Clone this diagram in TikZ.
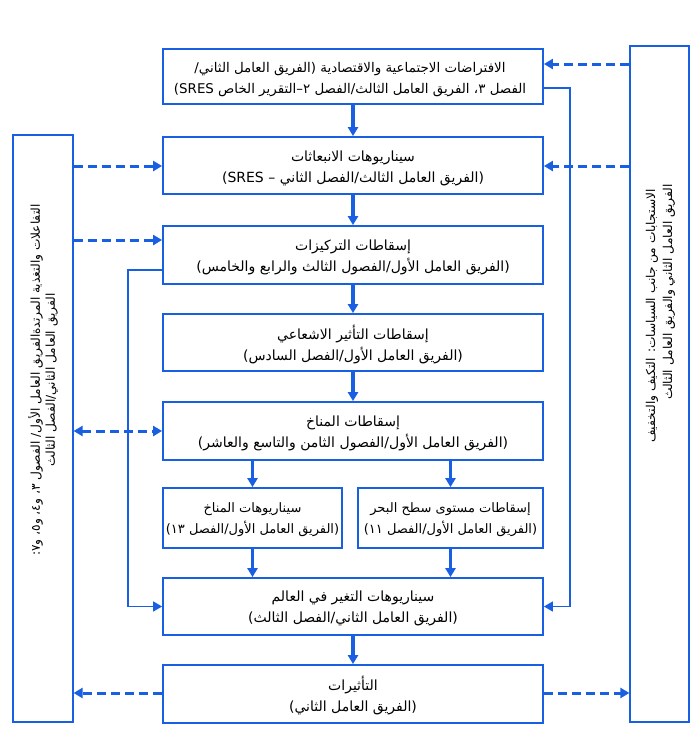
\documentclass[tikz,border=0pt]{standalone}
\usepackage{fontspec}
\usetikzlibrary{arrows.meta}
\TeXXeTstate=1
\newfontfamily\arfont[Script=Arabic]{DejaVu Sans}
\newcommand{\AR}[1]{\beginR #1\endR}
\definecolor{ipccblue}{RGB}{25,95,225}
\tikzset{
  box/.style={draw=ipccblue, line width=1.8pt, minimum width=380pt, inner sep=0pt},
  txt/.style={align=center, inner sep=0pt, font=\arfont\fontsize{14}{21}\selectfont},
  toptxt/.style={align=center, inner sep=0pt, font=\arfont\fontsize{13.4}{21}\selectfont},
  smalltxt/.style={align=center, inner sep=0pt, font=\arfont\fontsize{13}{21}\selectfont},
  sidebox/.style={draw=ipccblue, line width=1.2pt},
  sidetext/.style={rotate=90, align=center, inner sep=0pt, font=\arfont\fontsize{12.2}{15}\selectfont},
  arr/.style={draw=ipccblue, line width=3.2pt, -{Triangle[length=9pt,width=10pt]}},
  sarr/.style={draw=ipccblue, line width=1.6pt, -{Triangle[length=9pt,width=10pt]}},
  darr/.style={draw=ipccblue, line width=3pt, dash pattern=on 9pt off 5pt, -{Triangle[length=9pt,width=10pt]}},
  ddarr/.style={draw=ipccblue, line width=3pt, dash pattern=on 9pt off 5pt, {Triangle[length=9pt,width=10pt]}-{Triangle[length=9pt,width=10pt]}},
}
\begin{document}
\begin{tikzpicture}[x=1pt,y=-1pt]
\useasboundingbox (0,0) rectangle (700,737);
\fill[white] (0,0) rectangle (700,737);

\node[box, minimum height=55pt] (b1) at (353,76.5) {};
\node[box, minimum height=57pt] (b2) at (353,165.5) {};
\node[box, minimum height=58pt] (b3) at (353,255) {};
\node[box, minimum height=57pt] (b4) at (353,342.5) {};
\node[box, minimum height=58pt] (b5) at (353,431) {};
\node[box, minimum width=179pt, minimum height=60pt] (b6) at (252.5,518) {};
\node[box, minimum width=185pt, minimum height=60pt] (b7) at (450.5,518) {};
\node[box, minimum height=57pt] (b8) at (353,606.5) {};
\node[box, minimum height=58pt] (b9) at (353,694) {};

\node[toptxt] (t1) at ([xshift=-3pt,yshift=-3pt]b1.center) {\AR{الافتراضات الاجتماعية والاقتصادية (الفريق العامل الثاني/}\\\AR{الفصل ٣، الفريق العامل الثالث/الفصل ٢–التقرير الخاص \beginL SRES\endL)}};
\node[txt] (t2) at ([yshift=-3pt]b2.center) {\AR{سيناريوهات الانبعاثات}\\\AR{(الفريق العامل الثالث/الفصل الثاني – \beginL SRES\endL)}};
\node[txt] (t3) at ([yshift=-2pt]b3.center) {\AR{إسقاطات التركيزات}\\\AR{(الفريق العامل الأول/الفصول الثالث والرابع والخامس)}};
\node[txt] (t4) at ([yshift=-2pt]b4.center) {\AR{إسقاطات التأثير الاشعاعي}\\\AR{(الفريق العامل الأول/الفصل السادس)}};
\node[txt] (t5) at ([yshift=-2pt]b5.center) {\AR{إسقاطات المناخ}\\\AR{(الفريق العامل الأول/الفصول الثامن والتاسع والعاشر)}};
\node[smalltxt] (t6) at ([yshift=-2pt]b6.center) {\AR{سيناريوهات المناخ}\\\AR{(الفريق العامل الأول/الفصل ١٣)}};
\node[smalltxt] (t7) at ([yshift=-2pt]b7.center) {\AR{إسقاطات مستوى سطح البحر}\\\AR{(الفريق العامل الأول/الفصل ١١)}};
\node[txt] (t8) at ([yshift=-2pt]b8.center) {\AR{سيناريوهات التغير في العالم}\\\AR{(الفريق العامل الثاني/الفصل الثالث)}};
\node[txt] (t9) at ([yshift=-2pt]b9.center) {\AR{التأثيرات}\\\AR{(الفريق العامل الثاني)}};

\node[sidebox, minimum width=60pt, minimum height=587pt] (L) at (43,428.5) {};
\node[sidetext] (Lt) at (43,380) {\AR{التفاعلات والتغذية المرتدةالفريق العامل الأول/ الفصول ٣، و٤، و٥، و٧:}\\\AR{الفريق العامل الثاني/الفصل الثالث}};
\node[sidebox, minimum width=59pt, minimum height=676pt] (R) at (659.5,384) {};
\node[sidetext] (Rt1) at (652,316) {\AR{الاستجابات من جانب السياسات: التكيف والتخفيف}};
\node[sidetext] (Rt2) at (669,292) {\AR{الفريق العامل الثاني والفريق العامل الثالث}};

% main vertical flow
\draw[arr] (b1.south) -- (b2.north);
\draw[arr] (b2.south) -- (b3.north);
\draw[arr] (b3.south) -- (b4.north);
\draw[arr] (b4.south) -- (b5.north);
\draw[arr] (b6.north |- b5.south) -- (b6.north);
\draw[arr] (b7.north |- b5.south) -- (b7.north);
\draw[arr] (b6.south) -- (b6.south |- b8.north);
\draw[arr] (b7.south) -- (b7.south |- b8.north);
\draw[arr] (b8.south) -- (b9.north);

% solid side connectors
\coordinate (c1) at (570,88);
\coordinate (c3) at (128,270);
\draw[sarr] (b1.east |- c1) -- (c1) |- (b8.east);
\draw[sarr] (b3.west |- c3) -- (c3) |- (b8.west);

% dashed connectors
\coordinate (y1) at (0,64);
\coordinate (y2) at (0,166);
\coordinate (y3) at (0,240);
\coordinate (y5) at (0,431);
\coordinate (y9) at (0,693);
\draw[darr] (R.west |- y1) -- (b1.east |- y1);
\draw[darr] (R.west |- y2) -- (b2.east |- y2);
\draw[darr] (L.east |- y2) -- (b2.west |- y2);
\draw[darr] (L.east |- y3) -- (b3.west |- y3);
\draw[ddarr] (L.east |- y5) -- (b5.west |- y5);
\draw[darr] (b9.west |- y9) -- (L.east |- y9);
\draw[darr] (b9.east |- y9) -- (R.west |- y9);
\end{tikzpicture}
\end{document}
